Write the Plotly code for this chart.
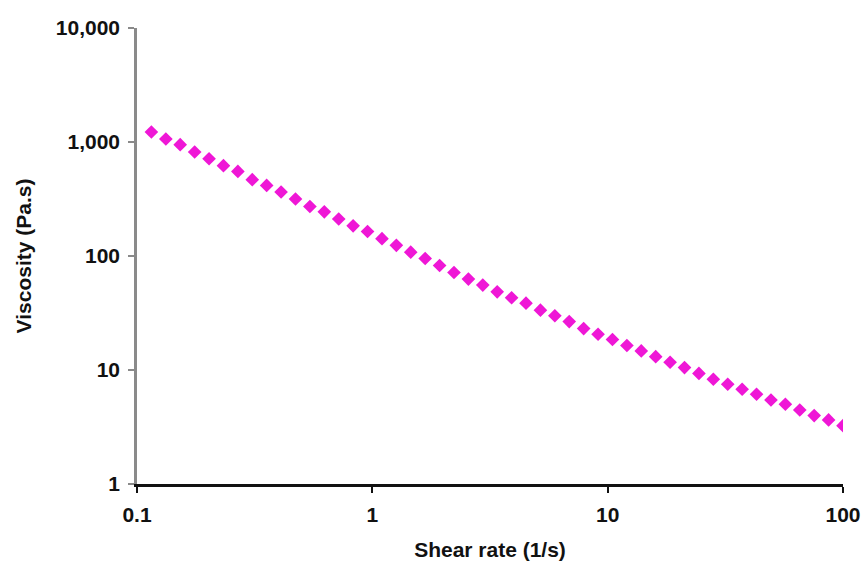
import plotly.graph_objects as go

# Shear-rate sweep (1/s), logarithmically spaced
shear_rate = [0.1151, 0.1326, 0.1526, 0.1758, 0.2024, 0.2330, 0.2683, 0.3089, 0.3556, 0.4095,
              0.4715, 0.5429, 0.6251, 0.7197, 0.8286, 0.9541, 1.099, 1.265, 1.456, 1.677,
              1.931, 2.223, 2.560, 2.947, 3.393, 3.907, 4.498, 5.179, 5.964, 6.866,
              7.906, 9.103, 10.48, 12.07, 13.89, 16.00, 18.42, 21.21, 24.42, 28.12,
              32.37, 37.28, 42.92, 49.42, 56.90, 65.51, 75.43, 86.85, 100.0]

# Measured viscosity (Pa.s)
viscosity = [1224, 1062, 947, 817, 713, 620, 552, 467, 416, 364,
             316, 272, 244, 211, 184, 164, 142, 124, 108, 95,
             82.5, 71.7, 62.7, 55.6, 48.5, 43.0, 38.6, 33.5, 29.9, 26.6,
             23.1, 20.6, 18.5, 16.4, 14.7, 13.1, 11.7, 10.5, 9.34, 8.30,
             7.50, 6.78, 6.13, 5.46, 5.01, 4.46, 3.98, 3.65, 3.25]

x_tickvals = [0.1, 1, 10, 100]
x_ticktext = ["0.1", "1", "10", "100"]
y_tickvals = [1, 10, 100, 1000, 10000]
y_ticktext = ["1", "10", "100", "1,000", "10,000"]

font_family = "Arial, Liberation Sans, sans-serif"
text_font = dict(family=font_family, size=21, color="#111111", weight="bold")

fig = go.Figure(
    go.Scatter(
        x=shear_rate,
        y=viscosity,
        mode="markers",
        marker=dict(symbol="diamond", size=10.5, color="#EF17D6", line=dict(width=0)),
        hoverinfo="x+y",
    )
)

fig.update_layout(
    width=866,
    height=568,
    margin=dict(l=137, r=23, t=28, b=84),
    paper_bgcolor="white",
    plot_bgcolor="white",
    showlegend=False,
    font=text_font,
)

fig.update_xaxes(
    type="log",
    range=[-1, 2],
    tickvals=x_tickvals,
    ticktext=x_ticktext,
    automargin=False,
    showgrid=False,
    zeroline=False,
    showline=True,
    linecolor="#111111",
    linewidth=2.5,
    ticks="outside",
    ticklen=6,
    tickwidth=2,
    tickcolor="#111111",
    ticklabelstandoff=4,
    tickfont=text_font,
    title=dict(text="Shear rate (1/s)", standoff=18, font=text_font),
)

fig.update_yaxes(
    type="log",
    range=[0, 4],
    tickvals=y_tickvals,
    ticktext=y_ticktext,
    automargin=False,
    showgrid=False,
    zeroline=False,
    showline=True,
    linecolor="#8a8a8a",
    linewidth=2.5,
    ticks="outside",
    ticklen=6,
    tickwidth=2,
    tickcolor="#8a8a8a",
    ticklabelstandoff=4,
    tickfont=text_font,
    title=dict(text="Viscosity (Pa.s)", standoff=19, font=text_font),
)

fig.write_html("out.html")
